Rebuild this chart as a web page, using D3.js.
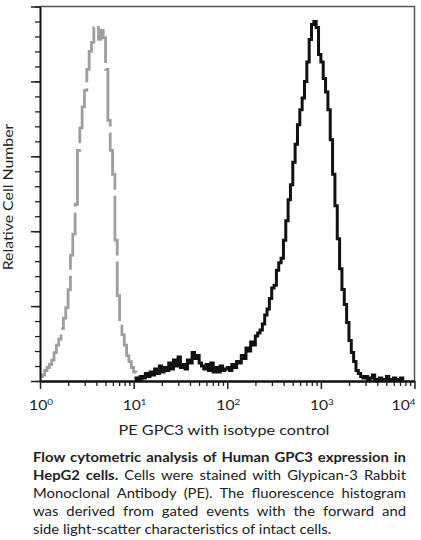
<!DOCTYPE html>
<html lang="en">
<head>
    <meta charset="UTF-8">
    <title>Flow cytometry - GPC3 in HepG2</title>
    <script src="https://cdnjs.cloudflare.com/ajax/libs/d3/7.8.5/d3.min.js"></script>
    <style>
        body {
            margin: 0;
            background: #fff;
        }
        svg text {
            font-family: Lato, sans-serif;
            fill: #222;
        }
    </style>
</head>
<body>
    <div id="chart"></div>

    <script>
        // histogram channels, log10 fluorescence, one bin every 0.025 decade
        const binWidth = 0.025;
        const isotypeStart = 0;     // first bin of the isotype control (log10)
        const gpc3Start = 1;        // first bin of the GPC3 stained sample (log10)

        // isotype control counts (grey dashed)
        const isotypeCounts = [3, 4, 7, 9, 11, 14, 19, 24, 28, 35, 42, 49, 61, 84, 98, 118, 154, 169, 183, 194,
            208, 220, 226, 236, 237, 228, 234, 229, 208, 174, 154, 138, 94, 57, 41, 31, 24, 17, 13, 9,
            6, 4, 3, 1, 1];

        // GPC3 stained counts (black)
        const gpc3Counts = [1, 2, 1, 3, 2, 5, 3, 6, 4, 8, 5, 10, 6, 9, 7, 12, 8, 14, 10, 16,
            9, 11, 8, 14, 12, 19, 15, 17, 12, 10, 8, 11, 7, 12, 6, 9, 6, 10, 7, 8,
            9, 7, 11, 9, 13, 12, 17, 15, 22, 20, 26, 24, 30, 32, 34, 38, 44, 48, 55, 62,
            64, 74, 79, 82, 94, 107, 121, 131, 146, 158, 171, 181, 189, 200, 213, 228, 238, 240, 236, 218,
            213, 202, 193, 181, 161, 138, 117, 95, 75, 61, 51, 39, 27, 19, 13, 7, 5, 3, 2, 3,
            1, 2, 4, 1, 1, 2, 1, 1, 3, 1, 1, 2, 1, 1, 2, 1];

        const xTickExponents = [0, 1, 2, 3, 4];
        const yMajorTicks = [0, 50, 100, 150, 200, 250];
        const yMinorTicks = d3.range(0, 251, 10);

        const xTitle = "PE GPC3 with isotype control";
        const yTitle = "Relative Cell Number";
        const captionLines = [
            ["Flow cytometric analysis of Human GPC3 expression in", ""],
            ["HepG2 cells.", " Cells were stained with Glypican-3 Rabbit"],
            ["", "Monoclonal Antibody (PE). The fluorescence histogram"],
            ["", "was derived from gated events with the forward and"],
            ["", "side light-scatter characteristics of intact cells."]
        ];

        const width = 421;
        const height = 540;
        const stretch = 1.16;   // the lettering in the figure is a bit wider than Lato

        const svg = d3.select("#chart").append("svg")
            .attr("width", width)
            .attr("height", height);

        const x = d3.scaleLog().domain([1, 1e4]).range([40, 414.5]);
        const y = d3.scaleLinear().domain([0, 250]).range([381, 6.5]);

        // turn bins into points at the bin centre
        function toPoints(counts, start) {
            return counts.map((c, i) => ({
                value: Math.pow(10, start + (i + 0.5) * binWidth),
                count: c
            }));
        }

        const line = d3.line()
            .x(d => x(d.value))
            .y(d => y(d.count))
            .curve(d3.curveStep);

        // frame (top and right)
        svg.append("path")
            .attr("d", `M${x(1)},${y(250)}H${x(1e4)}V${y(0)}`)
            .attr("fill", "none")
            .attr("stroke", "#555")
            .attr("stroke-width", 1.5);

        // histograms
        svg.append("path")
            .datum(toPoints(isotypeCounts, isotypeStart))
            .attr("d", line)
            .attr("fill", "none")
            .attr("stroke", "#9e9e9e")
            .attr("stroke-width", 2.8)
            .attr("stroke-dasharray", "62,6");

        svg.append("path")
            .datum(toPoints(gpc3Counts, gpc3Start))
            .attr("d", line)
            .attr("fill", "none")
            .attr("stroke", "#111")
            .attr("stroke-width", 3);

        // y axis: minor ticks then major ticks, no labels
        svg.append("g")
            .attr("transform", `translate(${x(1)},0)`)
            .call(d3.axisLeft(y).tickValues(yMinorTicks).tickSize(5).tickFormat(""))
            .call(g => g.select(".domain").remove())
            .call(g => g.selectAll("line").attr("stroke", "#222").attr("stroke-width", 1.3));

        svg.append("g")
            .attr("transform", `translate(${x(1)},0)`)
            .call(d3.axisLeft(y).tickValues(yMajorTicks).tickSize(9).tickFormat("").tickSizeOuter(0))
            .call(g => g.select(".domain").attr("stroke", "#111").attr("stroke-width", 2))
            .call(g => g.selectAll("line").attr("stroke", "#222").attr("stroke-width", 1.5));

        // x axis: decades plus 2..9 minor ticks
        const xMinor = [];
        xTickExponents.slice(0, -1).forEach(e => {
            for (let k = 2; k <= 9; k++) xMinor.push(k * Math.pow(10, e));
        });

        svg.append("g")
            .attr("transform", `translate(0,${y(0)})`)
            .call(d3.axisBottom(x).tickValues(xMinor).tickSize(5).tickFormat(""))
            .call(g => g.select(".domain").remove())
            .call(g => g.selectAll("line").attr("stroke", "#222").attr("stroke-width", 1.3));

        svg.append("g")
            .attr("transform", `translate(0,${y(0)})`)
            .call(d3.axisBottom(x).tickValues(xTickExponents.map(e => Math.pow(10, e)))
                .tickSize(8).tickSizeOuter(0).tickFormat(""))
            .call(g => g.select(".domain").attr("stroke", "#111").attr("stroke-width", 2.6))
            .call(g => g.selectAll("line").attr("stroke", "#222").attr("stroke-width", 1.5));

        // x tick labels 10^n (last one kept inside the frame)
        const labels = svg.append("g")
            .selectAll("text")
            .data(xTickExponents)
            .enter().append("text")
            .attr("transform", (e, i) => {
                const px = i === xTickExponents.length - 1 ? x(Math.pow(10, e)) - 11 : x(Math.pow(10, e)) + 1;
                return `translate(${px},410) scale(${stretch},1)`;
            })
            .attr("text-anchor", "middle")
            .style("font-size", "13.5px");
        labels.append("tspan").text("10");
        labels.append("tspan")
            .attr("dy", -5)
            .style("font-size", "8.5px")
            .text(e => e);

        // axis titles
        svg.append("text")
            .attr("transform", `translate(224,435) scale(${stretch},1)`)
            .attr("text-anchor", "middle")
            .style("font-size", "14px")
            .text(xTitle);

        svg.append("text")
            .attr("transform", "translate(12.5,197) rotate(-90) scale(1.22,1)")
            .attr("text-anchor", "middle")
            .style("font-size", "13px")
            .text(yTitle);

        // caption, justified line by line through word spacing
        const capLeft = 33, capWidth = 373, capTop = 462, capLead = 18;
        captionLines.forEach((parts, i) => {
            const t = svg.append("text")
                .attr("transform", `translate(${capLeft},${capTop + i * capLead}) scale(${stretch},1)`)
                .style("font-size", "12.8px");
            t.append("tspan").style("font-weight", "bold").text(parts[0]);
            t.append("tspan").text(parts[1]);
            if (i < captionLines.length - 1) {
                const natural = t.node().getComputedTextLength();
                const spaces = (parts[0] + parts[1]).split(" ").length - 1;
                t.style("word-spacing", ((capWidth / stretch - natural) / spaces) + "px");
            }
        });
    </script>
</body>
</html>
